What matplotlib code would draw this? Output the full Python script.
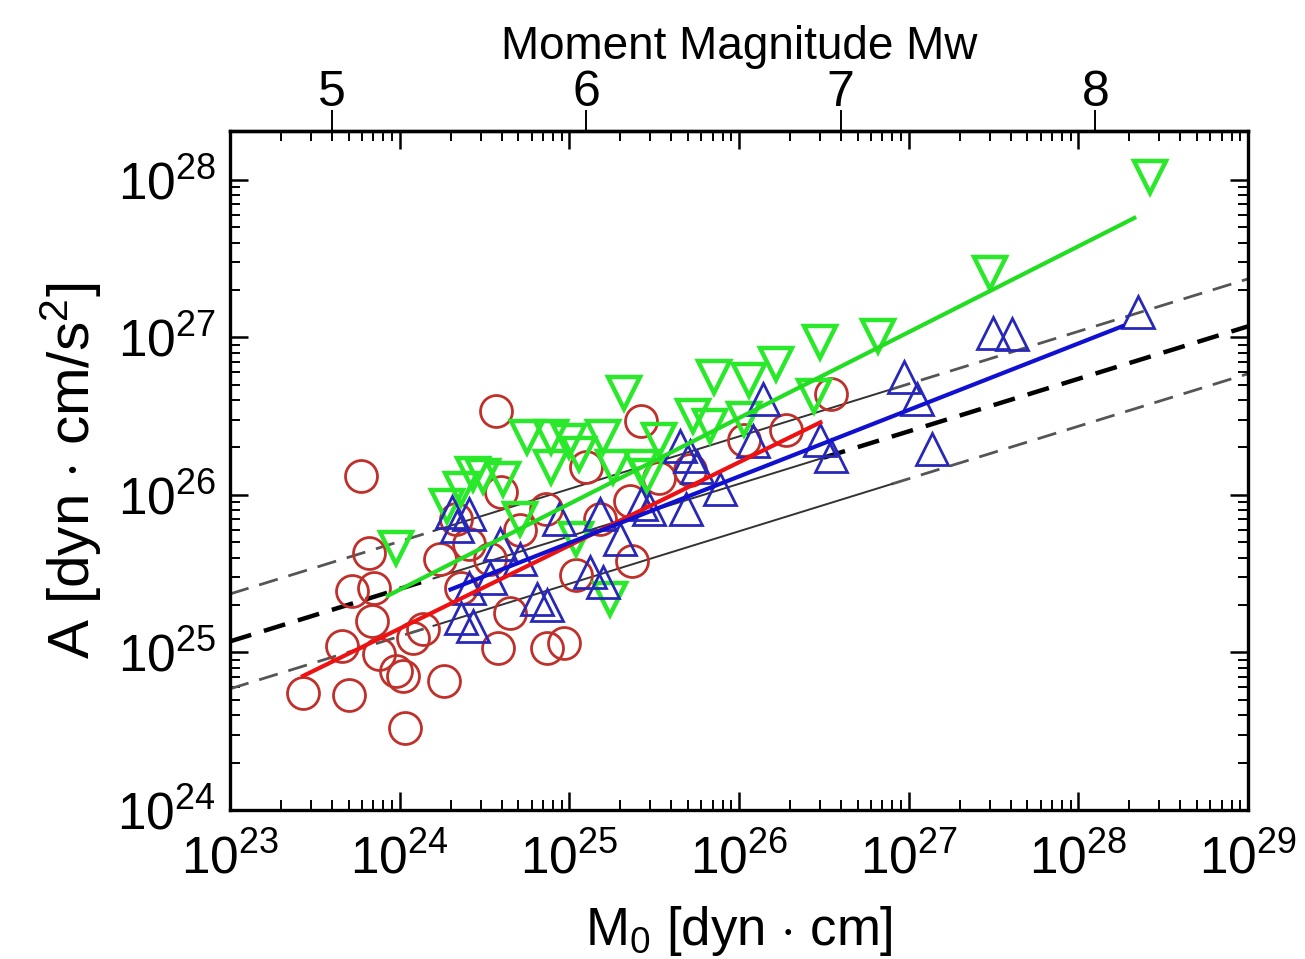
import numpy as np
import matplotlib
matplotlib.use("Agg")
import matplotlib.pyplot as plt
from matplotlib.ticker import LogLocator, NullLocator

plt.rcParams['font.family'] = ['Liberation Sans', 'DejaVu Sans']
plt.rcParams['mathtext.fontset'] = 'custom'
plt.rcParams['mathtext.rm'] = 'Liberation Sans'
plt.rcParams['mathtext.it'] = 'Liberation Sans:italic'
plt.rcParams['mathtext.bf'] = 'Liberation Sans:bold'

# log10 values
red_logm0 = [23.43, 23.70, 23.66, 23.72, 23.85, 23.82, 23.77, 23.84, 23.98, 24.02,
             24.26, 24.03, 24.08, 24.14, 24.57, 24.60, 24.58, 24.65, 24.87, 24.97,
             25.10, 25.36, 25.42, 25.37, 25.04, 26.54, 26.28, 26.03, 25.71, 25.53,
             24.41, 24.53, 24.71, 24.86, 24.36, 25.18, 24.24, 24.33, 23.88]
red_loga = [24.74, 24.73, 25.04, 25.39, 25.41, 25.63, 26.12, 25.20, 24.88, 24.85,
            24.82, 24.52, 25.09, 25.15, 26.53, 26.02, 25.03, 25.25, 25.03, 25.06,
            26.18, 25.96, 26.47, 25.58, 25.49, 26.64, 26.41, 26.35, 26.16, 26.11,
            25.69, 25.59, 25.78, 25.91, 25.41, 25.85, 25.59, 25.85, 24.99]

green_logm0 = [23.98, 24.28, 24.43, 24.49, 24.61, 24.36, 24.75, 24.89, 25.00, 25.20,
               25.32, 24.89, 25.26, 25.46, 25.73, 25.83, 25.24, 25.85, 26.06, 26.22,
               26.48, 26.44, 26.82, 27.48, 28.42, 25.42, 25.06, 24.71, 25.04, 25.53,
               26.03]
green_loga = [25.66, 25.93, 26.13, 26.12, 26.10, 26.04, 26.37, 26.37, 26.34, 26.37,
              26.65, 26.18, 26.18, 26.12, 26.50, 26.44, 25.34, 26.75, 26.73, 26.83,
              26.97, 26.63, 27.01, 27.41, 28.02, 26.18, 26.26, 25.85, 25.72, 26.35,
              26.48]

blue_logm0 = [26.97, 27.05, 27.14, 27.50, 27.61, 28.35, 26.48, 26.54, 26.14, 26.08,
              25.71, 25.65, 25.75, 25.69, 25.47, 25.20, 25.12, 24.87, 24.81, 24.36,
              24.43, 24.31, 24.34, 24.94, 24.71, 24.53, 25.30, 25.89, 25.18, 24.59,
              24.41, 25.42, 24.41]
blue_loga = [26.75, 26.61, 26.29, 27.03, 27.02, 27.16, 26.35, 26.25, 26.61, 26.34,
             26.25, 26.31, 26.18, 25.91, 25.91, 25.45, 25.51, 25.30, 25.34, 25.22,
             25.17, 25.89, 25.80, 25.85, 25.59, 25.47, 25.72, 26.04, 25.88, 25.69,
             25.41, 25.94, 25.88]

# fitted lines: log A = a + b log M0, over the range of each set
red_fit = (12.479, 0.528, 23.43, 26.48)
green_fit = (12.318, 0.545, 23.93, 28.33)
blue_fit = (15.145, 0.422, 24.30, 28.26)

# reference scaling A ~ M0^(1/3), with factor-2 bounds
ref_a0 = 25.07          # log A at M0 = 1e23
ref_slope = 1.0 / 3.0
ref_band = np.log10(2.0)
band_solid = (24.2, 26.9)
mid_solid = (24.2, 26.5)

fig = plt.figure(figsize=(13.05, 9.59), dpi=100)
ax = fig.add_axes([0.1762, 0.1554, 0.7801, 0.708])
ax.set_xscale('log')
ax.set_yscale('log')
ax.set_xlim(1e23, 1e29)
ax.set_ylim(1e24, 10 ** 28.31)


def ref_line(lm, off):
    return 10 ** (ref_a0 + off + ref_slope * (np.asarray(lm) - 23))


def draw_ref(off, solid, dcol, dlw, dash):
    lo = np.array([23.0, solid[0]])
    mid = np.array(solid)
    hi = np.array([solid[1], 29.0])
    for seg in (lo, hi):
        ax.plot(10 ** seg, ref_line(seg, off), color=dcol, lw=dlw,
                ls=(0, dash), zorder=2)
    ax.plot(10 ** mid, ref_line(mid, off), color='#333333', lw=1.4, zorder=2)


draw_ref(ref_band, band_solid, '#555555', 2.0, (7, 4))
draw_ref(-ref_band, band_solid, '#555555', 2.0, (7, 4))
draw_ref(0.0, mid_solid, 'black', 3.2, (5, 3))

ms = 23
ax.plot(10 ** np.array(red_logm0), 10 ** np.array(red_loga), 'o', ms=ms,
        mfc='none', mec='#c0302a', mew=2.0, zorder=3)
ax.plot(10 ** np.array(green_logm0), 10 ** np.array(green_loga), 'v', ms=ms,
        mfc='none', mec='#2ae82a', mew=3.2, zorder=3)
ax.plot(10 ** np.array(blue_logm0), 10 ** np.array(blue_loga), '^', ms=ms,
        mfc='none', mec='#2828b8', mew=2.0, zorder=3)

for (a, b, x0, x1), c in ((red_fit, '#ee1111'), (green_fit, '#22dd22'),
                          (blue_fit, '#1010d0')):
    lm = np.array([x0, x1])
    ax.plot(10 ** lm, 10 ** (a + b * lm), color=c, lw=3.0, zorder=4)

for s in ax.spines.values():
    s.set_linewidth(2.4)
ax.xaxis.set_major_locator(LogLocator(base=10, numticks=10))
ax.yaxis.set_major_locator(LogLocator(base=10, numticks=10))
ax.xaxis.set_minor_locator(LogLocator(base=10, subs=np.arange(2, 10), numticks=20))
ax.yaxis.set_minor_locator(LogLocator(base=10, subs=np.arange(2, 10), numticks=20))
ax.tick_params(which='both', direction='in', top=True, right=True, labelsize=37)
ax.tick_params(axis='x', which='major', pad=18)
ax.tick_params(axis='y', which='major', pad=10)
ax.tick_params(which='major', length=13, width=1.8)
ax.tick_params(which='minor', length=7, width=1.4)

ax.set_xlabel(r'M$_0$ [dyn $\cdot$ cm]', fontsize=38, labelpad=14)
ax.set_ylabel(r'A [dyn $\cdot$ cm/s$^2$]', fontsize=42, labelpad=10)


def to_mw(m0):
    m0 = np.clip(np.asarray(m0, dtype=float), 1e-300, None)
    return 2.0 / 3.0 * (np.log10(m0) - 16.1)


def from_mw(mw):
    return 10 ** (1.5 * np.asarray(mw, dtype=float) + 16.1)


sec = ax.secondary_xaxis('top', functions=(to_mw, from_mw))
sec.set_xticks([5, 6, 7, 8])
sec.set_xticklabels(['5', '6', '7', '8'])
sec.xaxis.set_minor_locator(NullLocator())
sec.tick_params(which='major', direction='out', length=15, width=1.4,
                labelsize=36, pad=-4)
sec.spines['top'].set_linewidth(2.4)
sec.set_xlabel('Moment Magnitude Mw', fontsize=33, labelpad=8)

fig.savefig('out.png', dpi=100)
